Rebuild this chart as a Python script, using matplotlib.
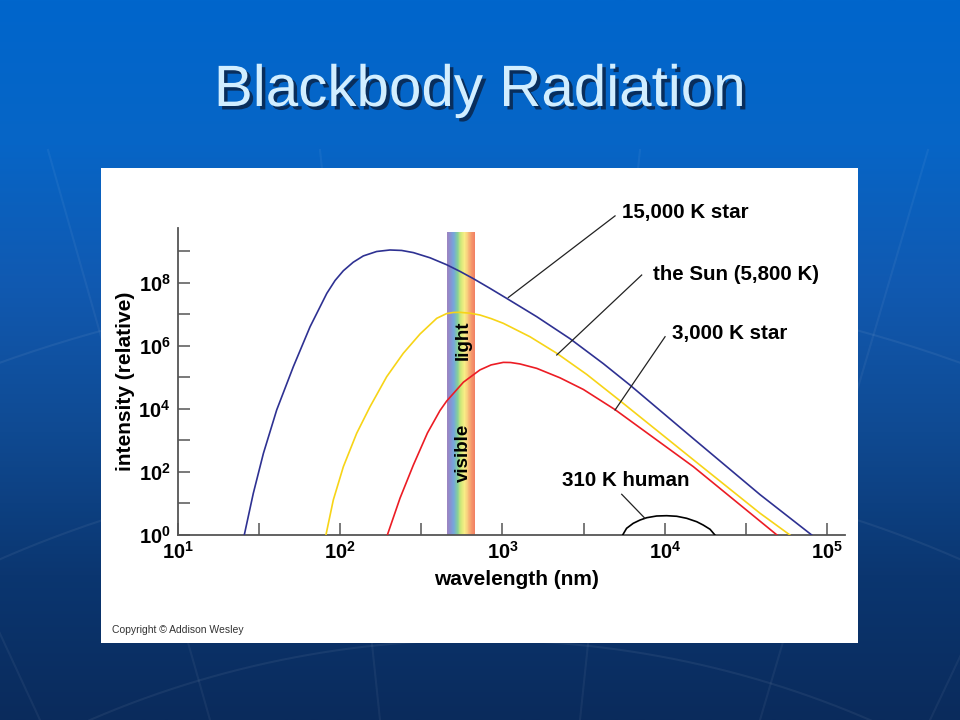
import numpy as np
import matplotlib
matplotlib.use('Agg')
import matplotlib.pyplot as plt
from matplotlib.colors import LinearSegmentedColormap
from matplotlib.patches import Rectangle
import matplotlib.patheffects as pe

plt.rcParams.update({
    'font.family': ['Liberation Sans', 'DejaVu Sans'],
    'font.weight': 'bold',
    'axes.labelweight': 'bold',
    'mathtext.fontset': 'custom',
    'mathtext.rm': 'Liberation Sans:bold',
    'mathtext.bf': 'Liberation Sans:bold',
    'mathtext.it': 'Liberation Sans:bold',
})

# ---- data (wavelength in nm, relative intensity) ----
star15k_wl = [25.7, 29.2, 33.7, 40.7, 51.5, 65.3, 82.8, 93.1, 104.7, 120.5, 139.0,
              167.9, 202.8, 239.3, 282.5, 358.1, 452.9, 547.0, 660.7, 837.5, 1061.7,
              1625.5, 2606.6, 4178.1, 6095.4, 14962, 38548, 80168]
star15k_int = [1, 20.9, 389, 9333, 2.19e5, 4.07e6, 4.68e7, 1.20e8, 2.45e8, 4.57e8, 7.24e8,
               1.0e9, 1.117e9, 1.08e9, 9.23e8, 6.31e8, 3.80e8, 2.34e8, 1.38e8, 6.76e7, 3.24e7,
               8.51e6, 1.70e6, 2.75e5, 5.75e4, 1148, 19.1, 1]

sun_wl = [81.8, 90.8, 104.7, 126.5, 152.8, 193.6, 244.9, 310.5, 393.6, 452.9, 497.7,
          547.0, 631.0, 726.1, 851.1, 1011.6, 1475.7, 2157.7, 3296.1, 5296.6, 14962,
          38548, 58884]
sun_int = [1, 12.9, 147, 1694, 1.18e4, 1.06e5, 5.86e5, 2.40e6, 7.57e6, 1.07e7, 1.16e7,
           1.17e7, 1.10e7, 9.64e6, 7.41e6, 5.25e6, 1.97e6, 5.89e5, 1.26e5, 1.82e4, 245,
           4.9, 1]

star3k_wl = [195.4, 233.9, 282.5, 345.1, 412.1, 452.9, 574.1, 726.1, 851.1, 1011.6, 1122,
             1282.3, 1625.5, 2259.4, 3147.8, 4931.5, 14962, 48978]
star3k_int = [1, 14.8, 166, 1738, 8913, 1.78e4, 7.08e4, 1.74e5, 2.51e5, 3.02e5, 2.99e5,
              2.69e5, 1.95e5, 9.77e4, 4.17e4, 9550, 148, 1]

human_wl = [5495, 5808, 6383, 7031, 7727, 8892, 10257, 11830, 13614, 15704, 17219, 18967, 20324]
human_int = [1, 1.63, 2.35, 2.99, 3.54, 4.01, 4.1, 3.93, 3.39, 2.64, 2.07, 1.52, 1]

visible_band = (453, 678)
band_top = 4.2e9

y_major = [1, 1e2, 1e4, 1e6, 1e8]
y_minor = [1e1, 1e3, 1e5, 1e7, 1e9]
x_major = [1e1, 1e2, 1e3, 1e4, 1e5]
x_minor = [31.6, 316, 3160, 31600]

# ---- slide ----
W, H = 960, 720
fig = plt.figure(figsize=(9.6, 7.2), dpi=100)

bg = fig.add_axes([0, 0, 1, 1], zorder=-10)
bg_cmap = LinearSegmentedColormap.from_list(
    'slide', ['#0066cc', '#0765c6', '#1159b0', '#0f4a92', '#0b3670', '#0a2b5c'])
grad = np.linspace(0, 1, 256).reshape(-1, 1)
bg.imshow(grad, cmap=bg_cmap, aspect='auto', extent=[0, W, H, 0])
# faint arcs in the background
for cx, r in [(480, 900), (480, 1100), (480, 1300)]:
    t = np.linspace(0, 2 * np.pi, 400)
    bg.plot(cx + r * np.cos(t), 1450 + r * 0.9 * np.sin(t), color='white', alpha=0.06, lw=1.5)
for xx in [40, 210, 380, 580, 760, 930]:
    bg.plot([xx, 480 + (xx - 480) * 1.6], [720, 150], color='white', alpha=0.05, lw=1.5)
bg.set_xlim(0, W)
bg.set_ylim(H, 0)
bg.axis('off')
bg.add_patch(Rectangle((101, 168), 757, 475, facecolor='white', edgecolor='none', zorder=2))

bg.text(480, 91, 'Blackbody Radiation', ha='center', va='center', fontsize=42,
        fontweight='normal', color='#d2eeff',
        path_effects=[pe.withSimplePatchShadow(offset=(2.5, -2.5), shadow_rgbFace='#0a2850', alpha=0.9)],
        zorder=3)
bg.text(112, 630, 'Copyright \u00a9 Addison Wesley', ha='left', va='center',
        fontsize=7.5, fontweight='normal', color='#333333', zorder=3)

# ---- chart ----
x0, x1, ytop, ybot = 177.7, 845, 228, 535
ax = fig.add_axes([x0 / W, 1 - ybot / H, (x1 - x0) / W, (ybot - ytop) / H])
ax.patch.set_alpha(0)
ax.set_xscale('log')
ax.set_yscale('log')
ax.set_xlim(10, 10 ** 5.109)
ax.set_ylim(1, 10 ** 9.746)

# rainbow band for visible light
rainbow = LinearSegmentedColormap.from_list(
    'vis', ['#9d84c0', '#8a8fd0', '#74a8dc', '#86cf9a', '#cfe878', '#f8ee86',
            '#f8c67c', '#f59a6c', '#f27e62'])
edges = np.geomspace(visible_band[0], visible_band[1], 61)
for i in range(60):
    ax.axvspan(edges[i], edges[i + 1], ymin=0, ymax=np.log10(band_top) / 9.746,
               color=rainbow(i / 59), lw=0, zorder=1)
ax.text(574, 1.55e6, 'light', rotation=90, ha='center', va='center', fontsize=13.5, zorder=4)
ax.text(574, 393, 'visible', rotation=90, ha='center', va='center', fontsize=13.5, zorder=4)

ck = dict(lw=1.2, zorder=3, solid_joinstyle='round')
ax.plot(star15k_wl, star15k_int, color='#2e3192', **ck)
ax.plot(sun_wl, sun_int, color='#f7d417', **ck)
ax.plot(star3k_wl, star3k_int, color='#ec1c24', **ck)
ax.plot(human_wl, human_int, color='black', **ck)

# leader lines and labels
lk = dict(color='#222222', lw=0.9, clip_on=False, zorder=3)
tk = dict(ha='left', va='center', fontsize=14.8, clip_on=False)
ax.plot([1086, 4932], [3.47e7, 1.35e10], **lk)
ax.text(5420, 1.7e10, '15,000 K star', **tk)
ax.plot([2158, 7194], [5.18e5, 1.79e8], **lk)
ax.text(8492, 1.89e8, 'the Sun (5,800 K)', **tk)
ax.plot([4932, 10023], [9.29e3, 1.97e6], **lk)
ax.text(11015, 2.53e6, '3,000 K star', **tk)
ax.plot([7534, 5420], [3.39, 19.6], **lk)
ax.text(2317, 55.7, '310 K human', **tk)

for s in ['top', 'right']:
    ax.spines[s].set_visible(False)
for s in ['left', 'bottom']:
    ax.spines[s].set_color('#555555')
    ax.spines[s].set_linewidth(1.3)

ax.set_yticks(y_major, labels=[r'$\mathbf{10^{%d}}$' % int(np.log10(v)) for v in y_major])
ax.set_yticks(y_minor, minor=True)
ax.set_xticks(x_major, labels=[r'$\mathbf{10^{%d}}$' % int(np.log10(v)) for v in x_major])
ax.set_xticks(x_minor, minor=True)
ax.yaxis.set_minor_formatter(matplotlib.ticker.NullFormatter())
ax.xaxis.set_minor_formatter(matplotlib.ticker.NullFormatter())
ax.tick_params(which='both', direction='in', length=8.5, width=1.1, color='#555555',
               labelsize=14.5)
ax.tick_params(axis='y', pad=5)
ax.tick_params(axis='x', pad=4)

ax.set_ylabel('intensity (relative)', fontsize=15, fontweight='bold')
ax.yaxis.set_label_coords(-0.064, 0.5)
ax.set_xlabel('wavelength (nm)', fontsize=15, fontweight='bold')
ax.xaxis.set_label_coords(0.508, -0.115)

plt.savefig('out.png', dpi=100)
